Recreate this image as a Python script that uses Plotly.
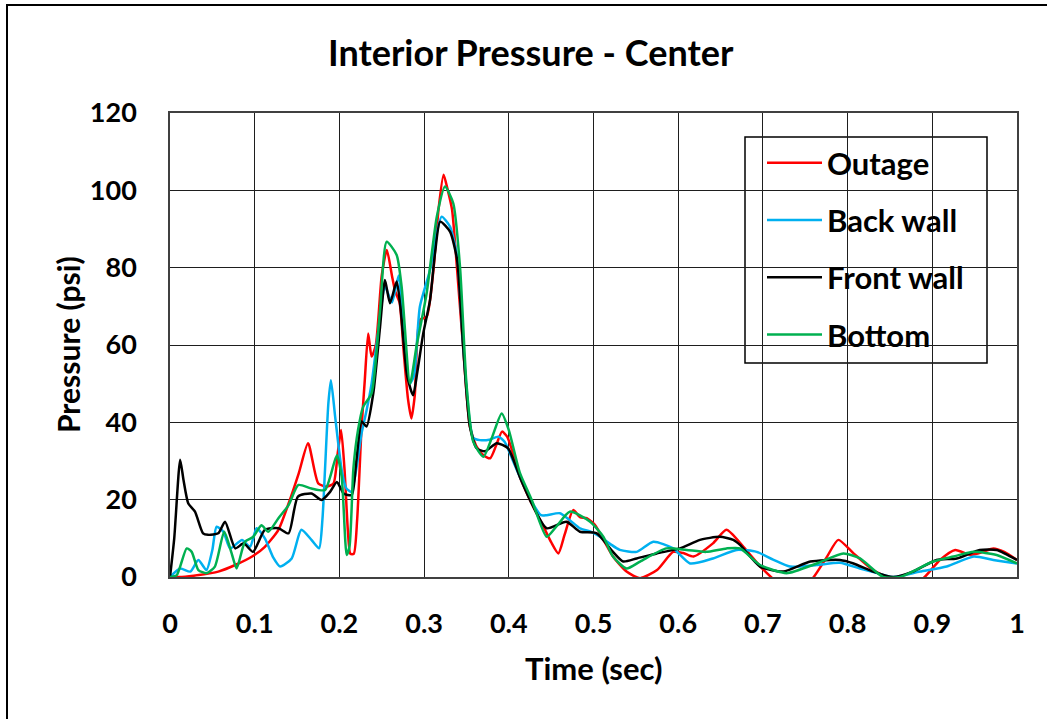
import plotly.graph_objects as go

# Time (sec) / pressure (psi) samples for each gauge location
outage_t = [0, 0.014, 0.034, 0.057, 0.077, 0.097, 0.112, 0.128, 0.14, 0.152, 0.163, 0.175, 0.185, 0.193,
            0.198, 0.202, 0.206, 0.21, 0.213, 0.217, 0.221, 0.226, 0.23, 0.234, 0.238, 0.243, 0.25, 0.256,
            0.262, 0.266, 0.271, 0.276, 0.281, 0.285, 0.289, 0.295, 0.303, 0.311, 0.317, 0.323, 0.328, 0.333,
            0.339, 0.346, 0.354, 0.362, 0.37, 0.378, 0.385, 0.392, 0.398, 0.405, 0.413, 0.427, 0.441, 0.45,
            0.4585, 0.466, 0.476, 0.484, 0.492, 0.502, 0.512, 0.523, 0.539, 0.555, 0.575, 0.594, 0.606, 0.618,
            0.641, 0.657, 0.677, 0.697, 0.712, 0.725, 0.745, 0.76, 0.775, 0.789, 0.807, 0.83, 0.846, 0.86,
            0.875, 0.891, 0.909, 0.927, 0.945, 0.96, 0.972, 0.985, 1.0]
outage_p = [0, 0, 0.5, 1.4, 3.1, 5.3, 7.8, 12.2, 19, 26.8, 34.6, 24.2, 23.4, 24.2,
            32, 38, 28, 12, 6, 6, 15, 38, 51, 63, 57, 60, 78, 84.6,
            78, 73.8, 71, 58, 46, 41, 47, 66.5, 67.3, 79.4, 95, 104, 100, 95,
            79.4, 59.6, 39, 33.7, 31.5, 30.7, 34, 37.6, 36.3, 32, 25.9, 19, 13, 9,
            6.1, 11, 17.3, 15.5, 15.2, 13.4, 9.5, 5.3, 1.4, -0.3, 1.8, 6.5, 6.2, 5.3,
            8.7, 12.2, 7.8, 2.7, -0.5, -3, -3, 0, 5, 9.6, 6.1, 1.8, 0, -2.5,
            -2.5, 0, 4.4, 7, 5.7, 6.5, 7.4, 6.5, 4.4]

back_t = [0, 0.012, 0.024, 0.0335, 0.043, 0.05, 0.055, 0.063, 0.071, 0.085, 0.0945, 0.1023, 0.112, 0.122,
          0.13, 0.1437, 0.155, 0.167, 0.176, 0.18, 0.183, 0.187, 0.19, 0.195, 0.2027, 0.208, 0.214, 0.22,
          0.226, 0.232, 0.238, 0.245, 0.254, 0.262, 0.27, 0.276, 0.283, 0.288, 0.295, 0.307, 0.314, 0.3207,
          0.3306, 0.339, 0.346, 0.354, 0.358, 0.366, 0.377, 0.3877, 0.395, 0.405, 0.413, 0.427, 0.438,
          0.4447, 0.4604, 0.472, 0.484, 0.496, 0.5077, 0.52, 0.531, 0.551, 0.5706, 0.594, 0.614, 0.641,
          0.669, 0.6926, 0.712, 0.732, 0.7635, 0.791, 0.8146, 0.835, 0.854, 0.8855, 0.917, 0.949, 0.972, 1.0]
back_p = [0, 2.2, 1.4, 4.4, 1.8, 7, 13, 11.7, 7.4, 9.6, 7.8, 12.6, 10, 5,
          2.7, 4.8, 12.2, 9.6, 7.4, 15, 27.7, 45, 50.9, 41.4, 27.7, 23, 22, 28,
          37, 43, 50, 62, 75, 71, 78, 62, 50, 52, 69.9, 79.4, 88, 93.2,
          90.6, 82.8, 60, 40, 36, 35.4, 35.5, 36.3, 35, 30, 25.9, 19.5, 16,
          16, 16.5, 14.7, 12.6, 11.8, 10.4, 8.5, 7, 6.5, 9.1, 7.4, 3.5, 4.8,
          7, 6.5, 4.5, 2.7, 3.1, 3.7, 2.2, 1, 0, 1.4, 2.7, 5.3, 4.4, 3.5]

front_t = [0, 0.005, 0.012, 0.016, 0.0216, 0.0295, 0.039, 0.045, 0.057, 0.065, 0.077, 0.087, 0.098, 0.112,
           0.128, 0.14, 0.151, 0.167, 0.179, 0.189, 0.197, 0.205, 0.2145, 0.22, 0.2263, 0.232, 0.24, 0.248,
           0.2538, 0.2597, 0.2676, 0.272, 0.28, 0.287, 0.292, 0.299, 0.307, 0.313, 0.319, 0.3306, 0.339,
           0.346, 0.354, 0.362, 0.372, 0.3857, 0.399, 0.413, 0.427, 0.4447, 0.468, 0.484, 0.5038, 0.523,
           0.535, 0.551, 0.5746, 0.602, 0.6257, 0.649, 0.665, 0.673, 0.6966, 0.724, 0.756, 0.791, 0.807,
           0.83, 0.854, 0.877, 0.905, 0.929, 0.956, 0.976, 1.0]
front_p = [0, 10, 30.3, 25, 19, 16.9, 11.3, 10.9, 11.3, 14.3, 7.4, 8.7, 6.5, 12.2,
           12.6, 11.3, 20.8, 21.6, 19.9, 22, 24.6, 21.6, 21.2, 30, 40.2, 38.9, 47.5, 64.7,
           76.8, 70.8, 76.4, 70, 52, 47, 53, 63, 71.6, 84, 91.9, 89.3, 82,
           60, 39, 33.3, 32.5, 34.6, 33.3, 25.9, 19, 12.6, 14.3, 11.7, 11.3, 6.5,
           4, 4.8, 6.1, 7.4, 9.6, 10.4, 9.6, 8.3, 2.7, 1.4, 4, 4.4, 3.5,
           1.4, 0, 1.4, 4.4, 4.8, 7, 7, 4.4]

bottom_t = [0, 0.008, 0.0197, 0.0256, 0.0335, 0.0433, 0.053, 0.064, 0.0728, 0.0787, 0.0885, 0.0984, 0.108,
            0.116, 0.128, 0.14, 0.1516, 0.167, 0.183, 0.197, 0.2027, 0.2086, 0.212, 0.2165, 0.222, 0.228,
            0.238, 0.248, 0.2558, 0.2676, 0.2735, 0.2834, 0.291, 0.303, 0.315, 0.3247, 0.3345, 0.3424, 0.35,
            0.358, 0.37, 0.38, 0.3916, 0.4, 0.413, 0.427, 0.4447, 0.456, 0.472, 0.496, 0.5116, 0.523, 0.539,
            0.555, 0.586, 0.61, 0.633, 0.657, 0.673, 0.6966, 0.728, 0.7635, 0.795, 0.8146, 0.842, 0.862,
            0.901, 0.925, 0.949, 0.976, 1.0]
bottom_p = [0, 0.5, 7.4, 6.5, 1.8, 1, 2.7, 11.7, 6.1, 2.2, 9.1, 10.4, 13.4,
            11.7, 15.2, 18.6, 23.8, 22.9, 22.5, 31.5, 25.9, 5.7, 8, 28, 38, 44,
            47.5, 69, 86.7, 83.3, 75, 50, 59.6, 73.4, 93.2, 101, 96.6, 80.2, 50,
            35, 31.1, 36, 42.3, 38, 27, 20, 10.4, 13, 16.9, 14.3, 10.4, 5.3, 2.2,
            4, 7.4, 7, 6.5, 7.4, 7.4, 3.1, 1, 3.5, 6.1, 4.8, 0, 0,
            4, 5.3, 6.5, 5.7, 3.5]

series = [
    ("Outage", outage_t, outage_p, "#FF0000"),
    ("Back wall", back_t, back_p, "#00B0F0"),
    ("Front wall", front_t, front_p, "#000000"),
    ("Bottom", bottom_t, bottom_p, "#00B050"),
]

FONT = "Lato"
fig = go.Figure()
for name, t, p, color in series:
    fig.add_trace(go.Scatter(
        x=t, y=p, name=name, mode="lines", legendgroup=name,
        line=dict(color=color, width=2.5, shape="spline", smoothing=0.6),
    ))

W, H = 1047, 719
L, R, T, B = 170, 1017, 113, 577


def px_x(v):
    return (v - L) / (R - L)


def px_y(v):
    return (B - v) / (B - T)


grid = "#1e1e1e"
axis_common = dict(
    showgrid=True, gridcolor=grid, gridwidth=1,
    showline=True, linecolor="#404040", linewidth=1.5, mirror=True,
    zeroline=False, ticks="",
    tickfont=dict(family=FONT, size=27, color="#000000", weight="bold"),
)

fig.update_layout(
    width=W, height=H,
    margin=dict(l=L, r=W - R, t=T, b=H - B, pad=0),
    paper_bgcolor="white", plot_bgcolor="white",
    font=dict(family=FONT, color="#000000"),
    xaxis=dict(range=[0, 1], dtick=0.1, tick0=0, ticklabelstandoff=22, **axis_common),
    yaxis=dict(range=[0, 120], dtick=20, tick0=0, ticklabelstandoff=26, **axis_common),
    showlegend=True,
    legend=dict(
        x=px_x(762), y=px_y(136), xanchor="left", yanchor="top",
        bgcolor="rgba(0,0,0,0)", borderwidth=0,
        font=dict(family=FONT, size=31, color="#000000", weight="bold"),
        tracegroupgap=14, itemwidth=55,
    ),
    shapes=[
        # legend frame
        dict(type="rect", xref="paper", yref="paper",
             x0=px_x(745), x1=px_x(987), y0=px_y(363), y1=px_y(137),
             line=dict(color="#000000", width=1.5), fillcolor="white", layer="below"),
        # outer chart frame
        dict(type="rect", xref="paper", yref="paper",
             x0=px_x(7), x1=px_x(1060), y0=px_y(730), y1=px_y(5),
             line=dict(color="#000000", width=2), fillcolor="rgba(0,0,0,0)"),
    ],
    annotations=[
        dict(text="Interior Pressure - Center", xref="paper", yref="paper",
             x=px_x(531), y=px_y(52), xanchor="center", yanchor="middle", showarrow=False,
             font=dict(family=FONT, size=36, color="#000000", weight="bold")),
        dict(text="Pressure (psi)", xref="paper", yref="paper",
             x=px_x(68), y=px_y(345), xanchor="center", yanchor="middle", showarrow=False,
             textangle=-90, font=dict(family=FONT, size=30, color="#000000", weight="bold")),
        dict(text="Time (sec)", xref="paper", yref="paper",
             x=px_x(593), y=px_y(668), xanchor="center", yanchor="middle", showarrow=False,
             font=dict(family=FONT, size=31, color="#000000", weight="bold")),
    ],
)

fig.write_html("out.html")
